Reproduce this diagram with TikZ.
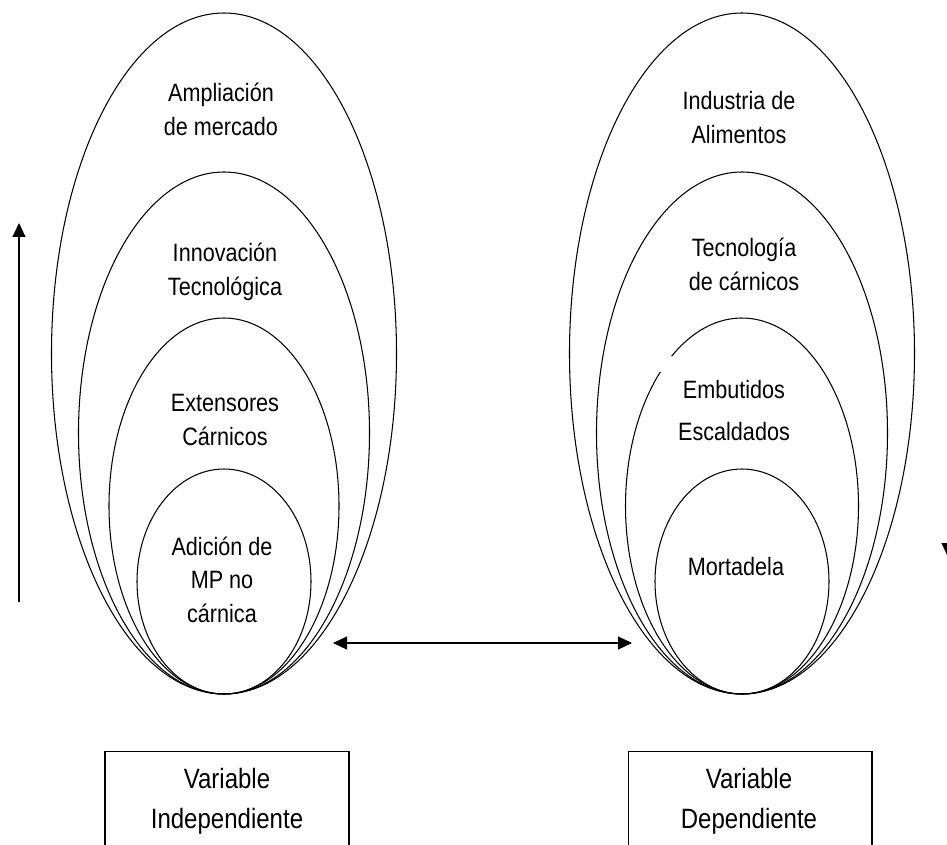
\documentclass[tikz,border=0pt]{standalone}
\usepackage{fontspec}
\setmainfont[FakeStretch=0.86]{Liberation Sans}
\usetikzlibrary{arrows.meta}

\begin{document}
\begin{tikzpicture}[x=0.02cm,y=-0.02cm,
	ring/.style={line width=0.6pt},
	lbl/.style={align=center,anchor=base,inner sep=0pt,font=\fontsize{14.3}{18.8}\selectfont},
	varbox/.style={draw,line width=0.6pt,anchor=north,minimum width=4.88cm,minimum height=2.4cm},
	boxlbl/.style={align=center,anchor=base,inner sep=0pt,font=\fontsize{15.9}{22.7}\selectfont},
	tip/.style={line width=0.6pt,-{Triangle[length=0.28cm,width=0.26cm]}},
	twotip/.style={line width=0.6pt,{Triangle[length=0.28cm,width=0.26cm]}-{Triangle[length=0.28cm,width=0.26cm]}}]
	\useasboundingbox (0,0) rectangle (947,845);
	\clip (0,0) rectangle (947,845);
	\foreach \rx/\cy/\ry in {172.5/353.5/340.5,145.5/433/261,115/506/188,87/581.5/112.5} {
		\draw [ring] (224,\cy) ellipse [x radius=\rx, y radius=\ry];
	}
	\foreach \rx/\cy/\ry in {172.5/353.5/340.5,145.5/433/261,87/581.5/112.5} {
		\draw [ring] (742,\cy) ellipse [x radius=\rx, y radius=\ry];
	}
	\draw [ring] (742,506) ++(232.8:116.5 and 188) arc [start angle=232.8, end angle=585.5, x radius=116.5, y radius=188];
	\draw (221,135) node (ampliacion) [lbl] {Ampliación\\de mercado};
	\draw (225,295) node (innovacion) [lbl] {Innovación\\Tecnológica};
	\draw (225,445) node (extensores) [lbl] {Extensores\\Cárnicos};
	\draw (222,622) node (adicion) [lbl] {Adición de\\MP no\\cárnica};
	\draw (739,143) node (industria) [lbl] {Industria de\\Alimentos};
	\draw (744,290) node (tecnologia) [lbl] {Tecnología\\de cárnicos};
	\draw (734,440) node (embutidos) [lbl] {Embutidos\\[5pt]Escaldados};
	\draw (736,575) node (mortadela) [lbl] {Mortadela};
	\draw (227,751) node (indep) [varbox] {};
	\draw (750,751) node (dep) [varbox] {};
	\draw (227,828) node (indeplbl) [boxlbl] {Variable\\Independiente};
	\draw (749,828) node (deplbl) [boxlbl] {Variable\\Dependiente};
	\coordinate (risefoot) at (19,602);
	\coordinate (risehead) at (19,223);
	\coordinate (linkleft) at (333,643);
	\coordinate (linkright) at (632,643);
	\coordinate (dropfoot) at (948,193);
	\coordinate (drophead) at (948,557);
	\draw [tip] (risefoot) -- (risehead);
	\draw [twotip] (linkleft) -- (linkright);
	\draw [tip] (dropfoot) -- (drophead);
\end{tikzpicture}
\end{document}
